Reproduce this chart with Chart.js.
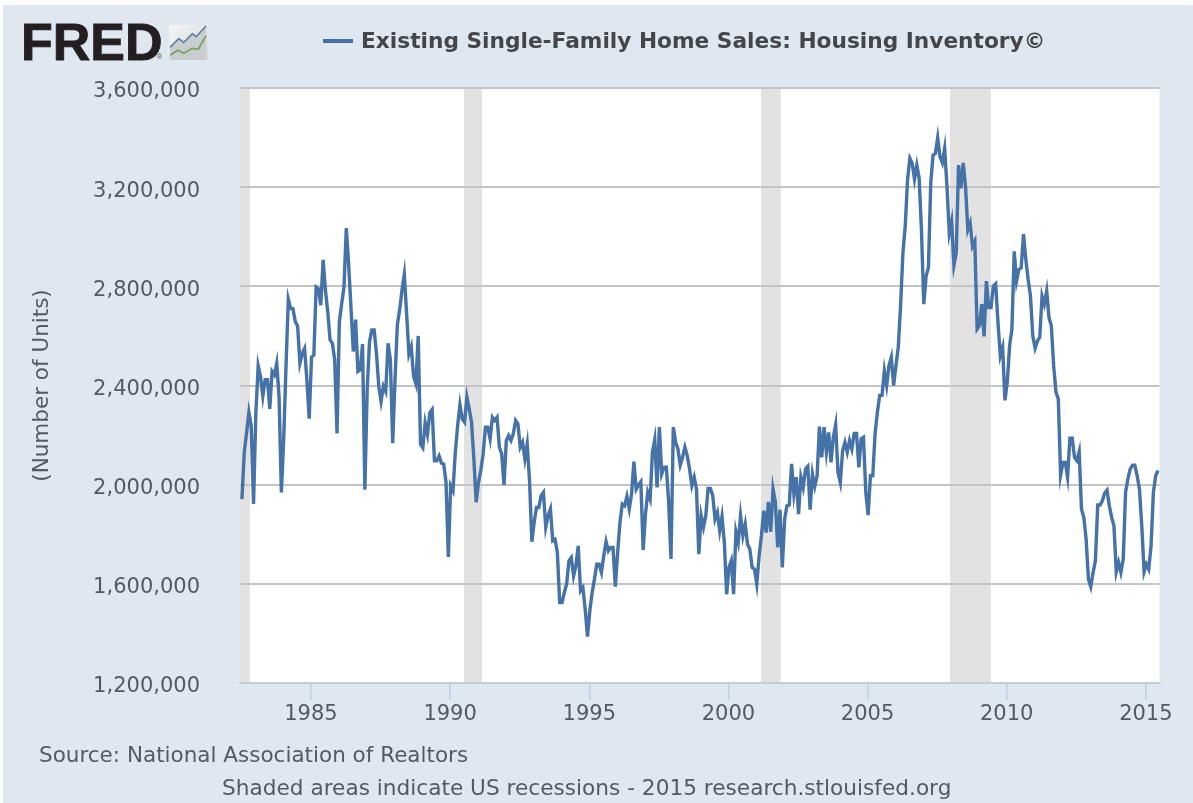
<!DOCTYPE html>
<html><head><meta charset="utf-8">
<style>
html,body{margin:0;padding:0;background:#fff;width:1193px;height:803px;overflow:hidden}
#bg{position:absolute;left:3px;top:5px;width:1190px;height:798px;background:#dfe7f0}
#c{position:absolute;left:0;top:0}
.t{position:absolute;font-family:"DejaVu Sans";color:#555a60;white-space:nowrap}
</style></head><body>
<div id="bg"></div>
<canvas id="c" width="1193" height="803"></canvas>
<div class="t" style="left:21px;top:12px;font:bold 52px 'Liberation Sans';color:#231f20;-webkit-text-stroke:0.9px #231f20">FRED</div>
<div class="t" style="left:157px;top:53px;font:7px 'Liberation Sans';color:#444">®</div>
<svg style="position:absolute;left:169px;top:25px" width="39" height="35" viewBox="0 0 40 36">
<defs><linearGradient id="g" x1="0" y1="0" x2="1" y2="1"><stop offset="0" stop-color="#f4f5f5"/><stop offset="1" stop-color="#d4d7d7"/></linearGradient></defs>
<rect width="40" height="36" fill="url(#g)"/><polygon points="1,23 10,14 15,18 24,9 28,12 38,1 38,36 1,36" fill="#c9cdd0"/><polyline points="1,23 10,14 15,18 24,9 28,12 38,1" fill="none" stroke="#5f86a8" stroke-width="1.8"/><polyline points="1,31 9,26 15,29 24,24 30,25 38,11" fill="none" stroke="#74a35a" stroke-width="1.8"/></svg>
<div style="position:absolute;left:323px;top:39px;width:30px;height:3.5px;background:#4572a7"></div>
<div class="t" style="left:361px;top:28px;font-weight:bold;font-size:21.7px;color:#43474c">Existing Single-Family Home Sales: Housing Inventory©</div>
<div class="t" style="left:39px;top:742px;font-size:21.5px">Source: National Association of Realtors</div>
<div class="t" style="left:222px;top:775px;font-size:21.65px">Shaded areas indicate US recessions - 2015 research.stlouisfed.org</div>
<script src="https://cdn.jsdelivr.net/npm/chart.js@4"></script>
<script>
const startYear = 1982.52;
const tickYears = [1985,1990,1995,2000,2005,2010,2015];
const recessionStarts = [1981.5, 1990.5, 2001.17, 2007.96];
const recessionEnds = [1982.81, 1991.15, 2001.88, 2009.43];
const inventoryThousands = [
1942,2130,2210,2292,2236,1922,2290,2480,2437,2356,2423,2423,
2306,2457,2443,2490,2356,1969,2183,2477,2748,2710,2710,2657,
2640,2490,2530,2550,2423,2266,2514,2523,2797,2790,2724,2907,
2784,2697,2584,2570,2503,2207,2657,2730,2797,3035,2890,2717,
2537,2666,2457,2463,2567,1980,2383,2577,2624,2624,2530,2397,
2336,2397,2376,2570,2503,2167,2423,2644,2704,2784,2848,2690,
2527,2557,2437,2407,2600,2163,2149,2250,2203,2290,2303,2096,
2096,2116,2087,2083,2009,1708,1996,1976,2131,2238,2322,2265,
2252,2353,2306,2252,2104,1929,2009,2057,2124,2232,2232,2185,
2272,2259,2272,2151,2124,1999,2178,2198,2178,2205,2259,2245,
2151,2171,2104,2164,2016,1770,1848,1908,1908,1956,1969,1828,
1875,1902,1774,1780,1727,1525,1525,1565,1599,1693,1706,1632,
1673,1753,1572,1585,1498,1387,1491,1565,1619,1679,1679,1646,
1713,1771,1733,1747,1747,1589,1727,1848,1922,1915,1953,1902,
1962,2093,1982,1999,2012,1737,1881,1969,1942,2131,2182,1989,
2232,2043,2070,2070,1929,1700,2232,2171,2144,2079,2110,2151,
2117,2063,1996,2030,1982,1720,1875,1828,1875,1985,1985,1956,
1861,1888,1814,1872,1767,1558,1666,1693,1558,1810,1767,1875,
1794,1841,1760,1740,1666,1659,1599,1713,1794,1895,1807,1931,
1810,1982,1929,1747,1899,1666,1861,1915,1918,2084,1962,2030,
1881,2030,1989,2063,2074,1899,2043,1993,2036,2234,2110,2232,
2131,2211,2090,2191,2242,2050,2009,2137,2171,2131,2178,2144,
2207,2207,2070,2185,2191,1969,1877,2036,2036,2205,2293,2360,
2360,2460,2400,2480,2514,2400,2480,2554,2721,2935,3042,3229,
3316,3296,3232,3289,3236,3028,2728,2841,2875,3216,3329,3336,
3400,3322,3298,3356,3202,3015,3062,2885,2935,3289,3195,3298,
3202,3028,3055,2962,2982,2627,2641,2728,2598,2821,2714,2714,
2801,2810,2654,2520,2554,2340,2413,2560,2627,2941,2821,2868,
2875,3011,2908,2828,2761,2600,2550,2580,2594,2761,2728,2781,
2674,2641,2480,2373,2346,2039,2090,2090,2030,2187,2187,2110,
2097,2133,1902,1868,1780,1619,1589,1646,1693,1918,1918,1935,
1966,1978,1915,1868,1834,1648,1686,1646,1700,1969,2023,2063,
2079,2079,2036,1982,1834,1648,1679,1659,1753,1969,2036,2057
];
const yTicksStep = 400000;
const seriesPoints = inventoryThousands.map((v,i)=>({x:startYear+i/12,y:v*1000}));

const plotDecor = {
  id:'plotDecor',
  beforeDraw(chart){
    const {ctx,chartArea:a,scales:{x}} = chart;
    ctx.save();
    ctx.fillStyle='#ffffff';
    ctx.fillRect(a.left,a.top,a.right-a.left,a.bottom-a.top);
    ctx.fillStyle='#e2e2e2';
    recessionStarts.forEach((s,i)=>{
      const l=Math.max(x.getPixelForValue(s),a.left), r=x.getPixelForValue(recessionEnds[i]);
      ctx.fillRect(l,a.top,r-l,a.bottom-a.top);
    });
    ctx.restore();
  }
};

new Chart(document.getElementById('c'),{
  type:'line',
  data:{datasets:[{label:'Existing Single-Family Home Sales: Housing Inventory©',data:seriesPoints,
    borderColor:'#4572a7',borderWidth:3.4,pointRadius:0,tension:0,borderJoinStyle:'miter'}]},
  plugins:[plotDecor],
  options:{
    responsive:false,animation:false,
    layout:{padding:{left:0,top:88,right:33.5,bottom:60}},
    plugins:{legend:{display:false},tooltip:{enabled:false}},
    scales:{
      x:{type:'linear',min:1982.45,max:2015.49,
        afterFit(s){s.height=60;},
        grid:{display:true,drawOnChartArea:false,drawTicks:true,tickLength:17,color:'#c0d0e0',lineWidth:1.5},
        border:{display:true,color:'#c0d0e0',width:1.5},
        afterBuildTicks(s){s.ticks=tickYears.map(v=>({value:v}));},
        ticks:{autoSkip:false,maxRotation:0,padding:2,color:'#555a60',font:{family:'DejaVu Sans',size:21},callback:v=>String(v)}
      },
      y:{min:1200000,max:3600000,
        afterFit(s){s.width=240;},
        grid:{color:'#c4c4c4',lineWidth:2,drawTicks:false,tickLength:0},
        border:{display:false},
        title:{display:true,text:'(Number of Units)',color:'#555a60',font:{family:'DejaVu Sans',size:21.5},padding:{top:30,bottom:0}},
        ticks:{stepSize:yTicksStep,padding:40,labelOffset:4,color:'#555a60',font:{family:'DejaVu Sans',size:21},
          callback:v=>v.toLocaleString('en-US')}
      }
    }
  }
});
</script>
</body></html>
